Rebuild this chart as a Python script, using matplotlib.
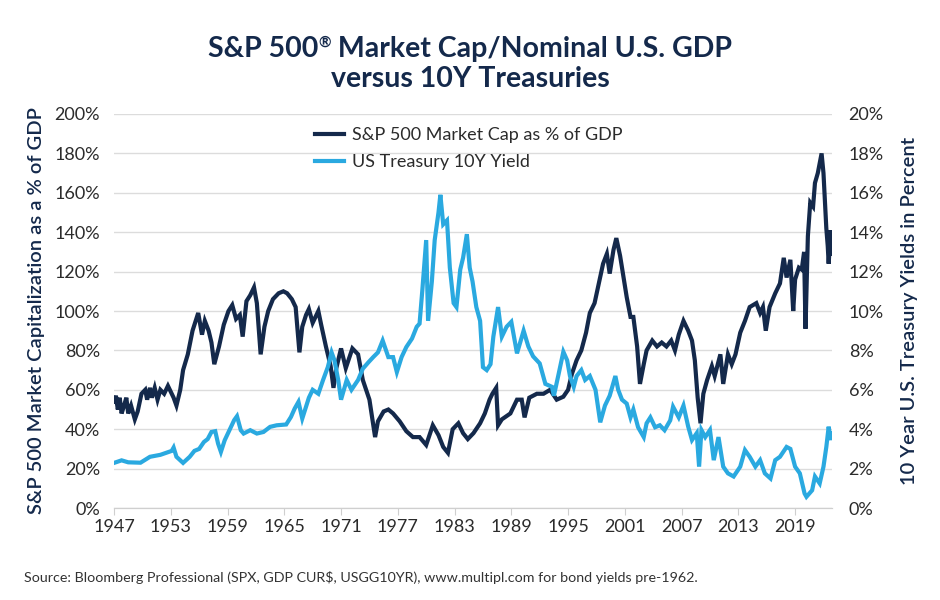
import matplotlib

matplotlib.use("Agg")
import matplotlib.pyplot as plt
from matplotlib.lines import Line2D
from matplotlib.ticker import FuncFormatter

plt.rcParams["font.family"] = ["Lato", "DejaVu Sans"]

NAVY = "#14294b"
LIGHT = "#2aa9e0"
TEXT = "#2b2b2b"

# S&P 500 market cap as % of GDP
cap_years = [
    1947.0, 1947.2, 1947.4, 1947.6, 1947.8, 1948.0, 1948.3, 1948.5, 1948.8, 1949.2,
    1949.5, 1949.9, 1950.3, 1950.5, 1950.8, 1951.0, 1951.3, 1951.6, 1951.9, 1952.3,
    1952.7, 1953.0, 1953.3, 1953.6, 1954.0, 1954.3, 1954.8, 1955.3, 1955.9, 1956.3,
    1956.6, 1957.0, 1957.3, 1957.6, 1958.1, 1958.6, 1959.1, 1959.5, 1959.9, 1960.3,
    1960.6, 1961.0, 1961.4, 1961.8, 1962.1, 1962.5, 1962.9, 1963.3, 1963.8, 1964.4,
    1964.9, 1965.3, 1965.8, 1966.2, 1966.6, 1966.9, 1967.3, 1967.6, 1968.0, 1968.6,
    1968.9, 1969.4, 1969.9, 1970.2, 1970.5, 1971.0, 1971.5, 1972.2, 1972.8, 1973.3,
    1974.0, 1974.6, 1974.9, 1975.5, 1976.0, 1976.5, 1977.2, 1977.9, 1978.6, 1979.3,
    1980.0, 1980.7, 1981.3, 1981.8, 1982.3, 1982.8, 1983.4, 1983.9, 1984.4, 1985.0,
    1985.7, 1986.2, 1986.7, 1987.0, 1987.4, 1987.6, 1988.0, 1988.9, 1989.6, 1990.1,
    1990.4, 1990.9, 1991.7, 1992.4, 1993.1, 1993.8, 1994.5, 1995.0, 1995.4, 1995.9,
    1996.4, 1996.9, 1997.3, 1997.8, 1998.2, 1998.7, 1999.1, 1999.4, 1999.8, 2000.1,
    2000.5, 2000.8, 2001.2, 2001.6, 2001.9, 2002.3, 2002.6, 2003.0, 2003.3, 2003.9,
    2004.4, 2004.9, 2005.4, 2005.9, 2006.3, 2006.7, 2007.2, 2007.7, 2008.1, 2008.4,
    2008.7, 2009.0, 2009.3, 2009.7, 2010.2, 2010.5, 2011.1, 2011.4, 2011.9, 2012.3,
    2012.7, 2013.2, 2013.7, 2014.2, 2014.9, 2015.3, 2015.6, 2015.9, 2016.3, 2016.9,
    2017.4, 2017.8, 2018.1, 2018.5, 2018.8, 2019.0, 2019.4, 2019.7, 2019.95, 2020.1,
    2020.35, 2020.6, 2020.9, 2021.1, 2021.4, 2021.8, 2022.0, 2022.3, 2022.45, 2022.55,
    2022.75, 2022.85,
]
cap_pct = [
    54, 57, 50, 56, 48, 51, 56, 48, 52, 45,
    49, 58, 60, 55, 61, 56, 61, 55, 60, 58,
    62, 59, 56, 52, 60, 70, 78, 90, 99, 88,
    95, 90, 84, 73, 82, 93, 100, 103, 96, 98,
    87, 105, 108, 112, 104, 78, 92, 100, 106, 109,
    110, 109, 106, 102, 79, 92, 98, 101, 94, 100,
    93, 82, 72, 61, 71, 81, 71, 81, 78, 65,
    55, 36, 44, 49, 50, 48, 44, 39, 36, 36,
    32, 42, 37, 31, 28, 40, 43, 38, 35, 38,
    43, 48, 55, 58, 61, 42, 45, 48, 55, 55,
    46, 56, 58, 58, 60, 55, 56.5, 60, 68, 75,
    80, 89, 99, 104, 113, 124, 129, 119, 131, 137,
    128, 119, 107, 97, 97, 82, 63, 73, 80, 85,
    82, 84, 82, 85, 80, 88, 95, 90, 85, 75,
    56, 43, 58, 65, 72, 67, 78, 63, 78, 73,
    78, 89, 95, 102, 104, 99, 102, 90, 102, 109,
    114, 127, 117, 126, 100, 116, 122, 121, 130, 91,
    138, 155, 153, 165, 170, 180, 170, 142, 133, 124,
    141, 129,
]

# US Treasury 10Y yield, percent
yld_years = [
    1947.0, 1947.8, 1948.5, 1949.8, 1950.8, 1951.9, 1953.1, 1953.3, 1953.6, 1954.3,
    1955.0, 1955.5, 1956.0, 1956.5, 1956.9, 1957.3, 1957.7, 1958.0, 1958.3, 1958.7,
    1959.2, 1959.7, 1960.0, 1960.4, 1960.7, 1961.4, 1962.1, 1962.8, 1963.5, 1964.2,
    1965.2, 1965.7, 1966.1, 1966.5, 1966.9, 1967.3, 1967.6, 1968.0, 1968.6, 1969.1,
    1969.6, 1970.0, 1970.3, 1970.7, 1971.0, 1971.6, 1972.1, 1972.8, 1973.3, 1973.9,
    1974.4, 1974.9, 1975.4, 1976.0, 1976.5, 1976.9, 1977.4, 1977.9, 1978.5, 1979.0,
    1979.3, 1979.6, 1980.0, 1980.2, 1980.6, 1980.9, 1981.3, 1981.5, 1981.8, 1982.2,
    1982.5, 1982.9, 1983.2, 1983.6, 1983.9, 1984.3, 1984.6, 1984.9, 1985.3, 1985.7,
    1986.0, 1986.4, 1986.8, 1987.1, 1987.6, 1988.0, 1988.5, 1989.0, 1989.6, 1990.3,
    1990.8, 1991.3, 1992.0, 1992.6, 1993.3, 1993.5, 1994.0, 1994.5, 1994.9, 1995.2,
    1995.6, 1995.9, 1996.4, 1996.8, 1997.3, 1997.9, 1998.4, 1998.9, 1999.4, 2000.0,
    2000.3, 2000.7, 2001.2, 2001.6, 2001.9, 2002.4, 2003.0, 2003.3, 2003.7, 2004.2,
    2004.7, 2005.2, 2005.8, 2006.1, 2006.7, 2007.2, 2007.7, 2008.1, 2008.6, 2008.85,
    2009.1, 2009.5, 2010.0, 2010.4, 2010.9, 2011.4, 2011.9, 2012.5, 2013.2, 2013.7,
    2014.2, 2014.8, 2015.3, 2015.8, 2016.4, 2016.9, 2017.4, 2018.1, 2018.5, 2019.0,
    2019.5, 2020.0, 2020.2, 2020.8, 2021.1, 2021.6, 2022.0, 2022.3, 2022.55, 2022.75,
    2022.85,
]
yld_pct = [
    2.29, 2.42, 2.32, 2.30, 2.6, 2.7, 2.9, 3.07, 2.6, 2.29,
    2.6, 2.9, 3.0, 3.35, 3.5, 3.86, 3.9, 3.27, 2.85, 3.44,
    3.95, 4.46, 4.66, 3.95, 3.78, 3.95, 3.78, 3.86, 4.12, 4.2,
    4.24, 4.62, 5.05, 5.39, 4.54, 5.14, 5.6, 6.0, 5.8, 6.5,
    7.15, 7.9, 7.5, 6.5, 5.5, 6.5, 6.0, 6.5, 7.07, 7.4,
    7.66, 7.9, 8.5, 7.66, 7.66, 6.9, 7.66, 8.17, 8.6, 9.2,
    9.36, 11.1, 13.6, 9.5, 11.5, 13.6, 15.0, 15.9, 14.4, 14.6,
    12.2, 10.4, 10.2, 12.1, 12.7, 13.9, 12.2, 11.5, 10.2, 9.5,
    7.15, 7.0, 7.3, 8.7, 10.2, 8.7, 9.2, 9.45, 7.85, 9.0,
    8.2, 7.7, 7.34, 6.3, 6.15, 5.7, 6.8, 7.93, 7.5, 6.7,
    6.15, 6.7, 7.0, 6.5, 6.7, 6.0, 4.35, 5.2, 5.7, 6.7,
    6.0, 5.5, 5.3, 4.6, 5.0, 4.1, 3.6, 4.3, 4.6, 4.1,
    4.2, 3.95, 4.45, 5.14, 4.6, 5.2, 4.13, 3.45, 3.8, 2.1,
    3.96, 3.6, 3.96, 2.43, 3.6, 2.1, 1.76, 1.6, 2.1, 2.94,
    2.6, 2.1, 2.43, 1.76, 1.5, 2.43, 2.6, 3.1, 3.0, 2.1,
    1.76, 0.74, 0.57, 0.9, 1.6, 1.25, 2.1, 3.1, 4.13, 3.45,
    3.8,
]

year_ticks = [1947, 1953, 1959, 1965, 1971, 1977, 1983, 1989, 1995, 2001, 2007, 2013, 2019]

fig = plt.figure(figsize=(9.4, 6), dpi=100)
ax = fig.add_axes([0.1213, 0.1533, 0.7638, 0.6567])
ax2 = ax.twinx()

ax.plot(cap_years, cap_pct, color=NAVY, lw=3, solid_joinstyle="miter")
ax2.plot(yld_years, yld_pct, color=LIGHT, lw=3, solid_joinstyle="miter")

ax.set_xlim(1947, 2022.9)
ax.set_ylim(0, 200)
ax2.set_ylim(0, 20)
ax.set_yticks(range(0, 201, 20))
ax2.set_yticks(range(0, 21, 2))
ax.yaxis.set_major_formatter(FuncFormatter(lambda v, p: f"{v:.0f}%"))
ax2.yaxis.set_major_formatter(FuncFormatter(lambda v, p: f"{v:.0f}%"))
ax.set_xticks(year_ticks)
ax.grid(axis="y", color="#dcdcdc", lw=1)
ax.set_axisbelow(True)

for a in (ax, ax2):
    for s in ("top", "left", "right"):
        a.spines[s].set_visible(False)
    a.spines["bottom"].set_color("#cfcfcf")
ax.tick_params(axis="y", length=0, labelsize=13, labelcolor=TEXT, pad=10)
ax2.tick_params(axis="y", length=0, labelsize=13, labelcolor=TEXT, pad=12)
ax.tick_params(axis="x", length=5, color="#cfcfcf", labelsize=13, labelcolor=TEXT, pad=3)

ax.set_ylabel("S&P 500 Market Capitalization as a % of GDP", fontsize=14.5,
              color=NAVY, fontweight="semibold", labelpad=7)
ax2.set_ylabel("10 Year U.S. Treasury Yields in Percent", fontsize=14.5,
               color=NAVY, fontweight="semibold", labelpad=12)

handles = [Line2D([], [], color=NAVY, lw=3), Line2D([], [], color=LIGHT, lw=3)]
ax2.legend(handles, ["S&P 500 Market Cap as % of GDP", "US Treasury 10Y Yield"],
           loc="upper left", bbox_to_anchor=(0.28, 0.967), frameon=False,
           borderpad=0, borderaxespad=0, fontsize=13, handlelength=1.6,
           handletextpad=0.45, labelspacing=0.6, labelcolor=TEXT)

# title: first line built from pieces so the ® sits raised and small
renderer = fig.canvas.get_renderer()
tkw = dict(fontsize=20.5, fontweight="bold", color=NAVY)
parts = [
    fig.text(0, 0.905, "S&P 500", va="baseline", **tkw),
    fig.text(0, 0.922, "®", fontsize=11, fontweight="bold", color=NAVY, va="baseline"),
    fig.text(0, 0.905, " Market Cap/Nominal U.S. GDP", va="baseline", **tkw),
]
widths = [p.get_window_extent(renderer).width / fig.bbox.width for p in parts]
x0 = 0.5 - sum(widths) / 2
for p, w in zip(parts, widths):
    p.set_x(x0)
    x0 += w
fig.text(0.5, 0.855, "versus 10Y Treasuries", ha="center", va="baseline", **tkw)

fig.text(0.026, 0.037,
         "Source: Bloomberg Professional (SPX, GDP CUR$, USGG10YR), www.multipl.com for bond yields pre-1962.",
         fontsize=10.3, color="#333333", va="center")

fig.savefig("out.png", dpi=100)
